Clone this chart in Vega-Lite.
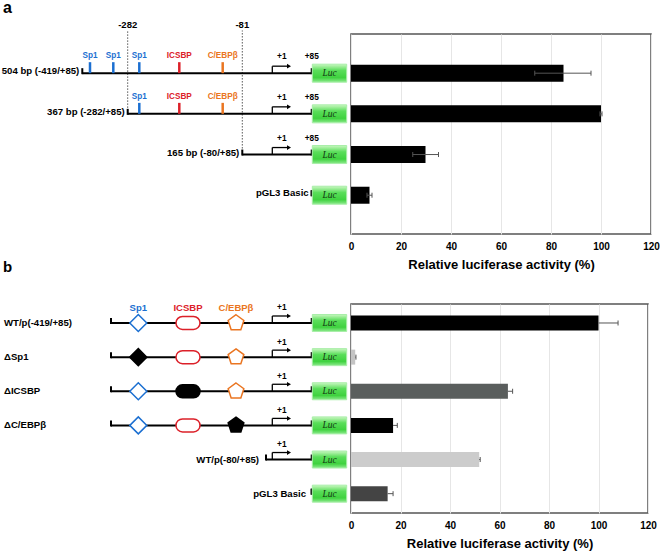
{
"$schema":"https://vega.github.io/schema/vega-lite/v6.json",
"padding":0,
"background":"white",
"config":{"font":"Liberation Sans","view":{"stroke":null},"text":{"font":"Liberation Sans"}},
"datasets":{
 "a_rows":[
  {"row":1,"name":"504 bp (-419/+85)","pos":82.3,"end":311.7},
  {"row":2,"name":"367 bp (-282/+85)","pos":127.7,"end":311.7},
  {"row":3,"name":"165 bp (-80/+85)","pos":242.3,"end":311.7},
  {"row":4,"name":"pGL3 Basic","pos":311.7,"end":311.7}
 ],
 "a_dash":[{"pos":127.7,"row":2,"top":-0.05,"label":"-282"},{"pos":242.3,"row":3,"top":-0.05,"label":"-81"}],
 "a_sites":[
  {"row":1,"site":"Sp1","pos":90},
  {"row":1,"site":"Sp1","pos":113.3},
  {"row":1,"site":"Sp1","pos":139.3},
  {"row":1,"site":"ICSBP","pos":179.3},
  {"row":1,"site":"C/EBPβ","pos":222.7},
  {"row":2,"site":"Sp1","pos":139.3},
  {"row":2,"site":"ICSBP","pos":179.3},
  {"row":2,"site":"C/EBPβ","pos":222.7}
 ],
 "a_tss":[
  {"row":1,"pos":272.3,"tip":289,"label":"+1"},
  {"row":2,"pos":272.3,"tip":289,"label":"+1"},
  {"row":3,"pos":272.3,"tip":289,"label":"+1"}
 ],
 "luc_a":[
  {"row":1,"pos":312.3,"lucEnd":346.7,"mid":329.5,"label":"Luc"},
  {"row":2,"pos":312.3,"lucEnd":346.7,"mid":329.5,"label":"Luc"},
  {"row":3,"pos":312.3,"lucEnd":346.7,"mid":329.5,"label":"Luc"},
  {"row":4,"pos":312.3,"lucEnd":346.7,"mid":329.5,"label":"Luc"}
 ],
 "a_letter":[{"pos":3,"row":-0.79,"label":"a"}],
 "bars_a":[
  {"row":1,"value":85,"lo":73.5,"hi":96},
  {"row":2,"value":100,"lo":99.6,"hi":100.4},
  {"row":3,"value":29.8,"lo":24.7,"hi":35},
  {"row":4,"value":7.4,"lo":6.4,"hi":8.4}
 ],
 "b_rows":[
  {"row":1,"name":"WT/p(-419/+85)","pos":111,"end":311.7,"lab":4},
  {"row":2,"name":"ΔSp1","pos":111,"end":311.7,"lab":4},
  {"row":3,"name":"ΔICSBP","pos":111,"end":311.7,"lab":4},
  {"row":4,"name":"ΔC/EBPβ","pos":111,"end":311.7,"lab":4},
  {"row":5,"name":"WT/p(-80/+85)","pos":266,"end":311.7,"lab":259},
  {"row":6,"name":"pGL3 Basic","pos":311.7,"end":311.7,"lab":306}
 ],
 "b_sites":[
  {"row":1,"site":"Sp1","pos":138.3,"from":138.3,"to":138.3,"deleted":false},
  {"row":1,"site":"ICSBP","pos":188,"from":176,"to":200,"deleted":false},
  {"row":1,"site":"C/EBPβ","pos":236,"from":236,"to":236,"deleted":false},
  {"row":2,"site":"Sp1","pos":138.3,"from":138.3,"to":138.3,"deleted":true},
  {"row":2,"site":"ICSBP","pos":188,"from":176,"to":200,"deleted":false},
  {"row":2,"site":"C/EBPβ","pos":236,"from":236,"to":236,"deleted":false},
  {"row":3,"site":"Sp1","pos":138.3,"from":138.3,"to":138.3,"deleted":false},
  {"row":3,"site":"ICSBP","pos":188,"from":176,"to":200,"deleted":true},
  {"row":3,"site":"C/EBPβ","pos":236,"from":236,"to":236,"deleted":false},
  {"row":4,"site":"Sp1","pos":138.3,"from":138.3,"to":138.3,"deleted":false},
  {"row":4,"site":"ICSBP","pos":188,"from":176,"to":200,"deleted":false},
  {"row":4,"site":"C/EBPβ","pos":236,"from":236,"to":236,"deleted":true}
 ],
 "b_tss":[
  {"row":1,"pos":272.3,"tip":289,"label":"+1"},
  {"row":2,"pos":272.3,"tip":289,"label":"+1"},
  {"row":3,"pos":272.3,"tip":289,"label":"+1"},
  {"row":4,"pos":272.3,"tip":289,"label":"+1"},
  {"row":5,"pos":272.3,"tip":289,"label":"+1"}
 ],
 "luc_b":[
  {"row":1,"pos":312.3,"lucEnd":346.7,"mid":329.5,"label":"Luc"},
  {"row":2,"pos":312.3,"lucEnd":346.7,"mid":329.5,"label":"Luc"},
  {"row":3,"pos":312.3,"lucEnd":346.7,"mid":329.5,"label":"Luc"},
  {"row":4,"pos":312.3,"lucEnd":346.7,"mid":329.5,"label":"Luc"},
  {"row":5,"pos":312.3,"lucEnd":346.7,"mid":329.5,"label":"Luc"},
  {"row":6,"pos":312.3,"lucEnd":346.7,"mid":329.5,"label":"Luc"}
 ],
 "b_letter":[{"pos":3,"row":-0.86,"label":"b"}],
 "bars_b":[
  {"row":1,"name":"WT/p(-419/+85)","value":100,"hi":107.9},
  {"row":2,"name":"ΔSp1","value":1.7,"hi":2.0},
  {"row":3,"name":"ΔICSBP","value":63.4,"hi":65.3},
  {"row":4,"name":"ΔC/EBPβ","value":17.0,"hi":18.7},
  {"row":5,"name":"WT/p(-80/+85)","value":51.8,"hi":52.2},
  {"row":6,"name":"pGL3 Basic","value":14.8,"hi":17.0}
 ]
},
"columns":2,
"align":"none",
"bounds":"flush",
"spacing":{"row":70,"column":0},
"resolve":{"scale":{"color":"independent","fill":"independent"}},
"concat":[
  {"width":348,"height":200,
   "encoding":{
    "x":{"field":"pos","type":"quantitative","scale":{"domain":[0,348],"nice":false,"zero":false},"axis":null},
    "y":{"field":"row","type":"quantitative","scale":{"domain":[0.16,4.83],"nice":false,"zero":false,"reverse":true},"axis":null}
   },
   "layer":[
    {"data":{"name":"a_dash"},"mark":{"type":"rule","strokeDash":[1.5,1.5],"color":"#444","strokeWidth":0.9},"encoding":{"y2":{"field":"top"}}},
    {"data":{"name":"a_dash"},"mark":{"type":"text","fontSize":9.5,"fontWeight":"bold","baseline":"alphabetic","dy":-2,"color":"#000"},
     "encoding":{"y":{"field":"top","type":"quantitative","scale":{"domain":[0.16,4.83],"nice":false,"zero":false,"reverse":true},"axis":null},"text":{"field":"label"}}},
    {"data":{"name":"a_rows"},"mark":{"type":"rule","strokeWidth":2,"color":"#000"},"encoding":{"x2":{"field":"end"}}},
    {"data":{"name":"a_rows"},"mark":{"type":"rule","strokeWidth":2,"color":"#000","yOffset":1,"y2Offset":-5},"encoding":{"y2":{"field":"row"}}},
    {"data":{"name":"a_rows"},"mark":{"type":"rule","strokeWidth":2,"color":"#000","yOffset":1,"y2Offset":-5},
     "encoding":{"x":{"field":"end","type":"quantitative","scale":{"domain":[0,348],"nice":false,"zero":false},"axis":null},"y2":{"field":"row"}}},
    {"data":{"name":"a_rows"},"mark":{"type":"text","align":"right","dx":-3,"dy":-2,"fontSize":9.6,"fontWeight":"bold","color":"#000"},"encoding":{"text":{"field":"name"}}},
    {"data":{"name":"a_sites"},"mark":{"type":"rule","strokeWidth":2.5,"y2Offset":-11},
     "encoding":{"y2":{"field":"row"},"color":{"field":"site","type":"nominal","scale":{"domain":["Sp1","ICSBP","C/EBPβ"],"range":["#1b6fd1","#dc2029","#ea7521"]},"legend":null}}},
    {"data":{"name":"a_sites"},"mark":{"type":"text","fontSize":8.2,"fontWeight":"bold","dy":-17},
     "encoding":{"text":{"field":"site"},"color":{"field":"site","type":"nominal","scale":{"domain":["Sp1","ICSBP","C/EBPβ"],"range":["#1b6fd1","#dc2029","#ea7521"]},"legend":null}}},
    {"data":{"name":"a_tss"},"mark":{"type":"rule","strokeWidth":1.3,"color":"#000","y2Offset":-7},"encoding":{"y2":{"field":"row"}}},
    {"data":{"name":"a_tss"},"mark":{"type":"rule","strokeWidth":1.3,"color":"#000","yOffset":-7},"encoding":{"x2":{"field":"tip"}}},
    {"data":{"name":"a_tss"},"mark":{"type":"point","shape":"triangle-right","size":22,"filled":true,"color":"#000","opacity":1,"yOffset":-7},
     "encoding":{"x":{"field":"tip","type":"quantitative","scale":{"domain":[0,348],"nice":false,"zero":false},"axis":null}}},
    {"data":{"name":"a_tss"},"mark":{"type":"text","fontSize":8.3,"fontWeight":"bold","dx":9.5,"dy":-16,"color":"#000"},"encoding":{"text":{"field":"label"}}},
    {"data":{"name":"a_rows"},"transform":[{"filter":"datum.row <= 3"}],"mark":{"type":"text","fontSize":8.3,"fontWeight":"bold","dy":-16,"color":"#000"},
     "encoding":{"x":{"field":"end","type":"quantitative","scale":{"domain":[0,348],"nice":false,"zero":false},"axis":null},"text":{"value":"+85"}}},
    {"data":{"name":"luc_a"},"mark":{"type":"bar","orient":"horizontal","size":18,"stroke":"#a8eea8","strokeWidth":1,
      "fill":{"gradient":"linear","x1":0,"y1":0,"x2":0,"y2":1,"stops":[{"offset":0,"color":"#c8f7c0"},{"offset":0.35,"color":"#5ade5a"},{"offset":0.75,"color":"#3fd23f"},{"offset":1,"color":"#8eea8e"}]}},
     "encoding":{"x2":{"field":"lucEnd"}}},
    {"data":{"name":"luc_a"},"mark":{"type":"text","font":"Liberation Serif","fontStyle":"italic","fontSize":9.5,"color":"#123812"},
     "encoding":{"x":{"field":"mid","type":"quantitative","scale":{"domain":[0,348],"nice":false,"zero":false},"axis":null},"text":{"field":"label"}}},
    {"data":{"name":"a_letter"},"mark":{"type":"text","align":"left","baseline":"top","fontSize":16,"fontWeight":"bold","color":"#000"},"encoding":{"text":{"field":"label"}}}
   ]
  },
  {"width":300,"height":200,"view":{"stroke":"#555","strokeWidth":1.5},
   "data":{"name":"bars_a"},
   "encoding":{"y":{"field":"row","type":"quantitative","scale":{"domain":[0.16,4.83],"nice":false,"zero":false,"reverse":true},"axis":null}},
   "layer":[
    {"mark":{"type":"bar","orient":"horizontal","size":17,"color":"#000"},
     "encoding":{"x":{"field":"value","type":"quantitative","scale":{"domain":[0,120],"nice":false},
      "axis":{"values":[0,20,40,60,80,100,120],"grid":true,"gridColor":"#e6e6e6","domain":false,"ticks":false,"labelFontSize":10,"labelFontWeight":"bold","labelColor":"#000","labelPadding":7,"labelFlush":false,"labelFont":"Liberation Sans","title":"Relative luciferase activity (%)","titleFontSize":13,"titleFontWeight":"bold","titleColor":"#000","titlePadding":7,"titleFont":"Liberation Sans"}}}},
    {"mark":{"type":"rule","color":"#555","strokeWidth":1},
     "encoding":{"x":{"field":"lo","type":"quantitative","scale":{"domain":[0,120],"nice":false}},"x2":{"field":"hi"}}},
    {"mark":{"type":"rule","color":"#555","strokeWidth":1,"yOffset":-2.5,"y2Offset":2.5},
     "encoding":{"x":{"field":"lo","type":"quantitative","scale":{"domain":[0,120],"nice":false}},"y2":{"field":"row"}}},
    {"mark":{"type":"rule","color":"#555","strokeWidth":1,"yOffset":-2.5,"y2Offset":2.5},
     "encoding":{"x":{"field":"hi","type":"quantitative","scale":{"domain":[0,120],"nice":false}},"y2":{"field":"row"}}}
   ]
  },
  {"width":351,"height":209,
   "encoding":{
    "x":{"field":"pos","type":"quantitative","scale":{"domain":[0,351],"nice":false,"zero":false},"axis":null},
    "y":{"field":"row","type":"quantitative","scale":{"domain":[0.59,6.42],"nice":false,"zero":false,"reverse":true},"axis":null}
   },
   "layer":[
    {"data":{"name":"b_rows"},"mark":{"type":"rule","strokeWidth":2,"color":"#000"},"encoding":{"x2":{"field":"end"}}},
    {"data":{"name":"b_rows"},"mark":{"type":"rule","strokeWidth":2,"color":"#000","yOffset":1,"y2Offset":-5},"encoding":{"y2":{"field":"row"}}},
    {"data":{"name":"b_rows"},"mark":{"type":"rule","strokeWidth":2,"color":"#000","yOffset":1,"y2Offset":-5},
     "encoding":{"x":{"field":"end","type":"quantitative","scale":{"domain":[0,351],"nice":false,"zero":false},"axis":null},"y2":{"field":"row"}}},
    {"data":{"name":"b_rows"},"transform":[{"filter":"datum.row <= 4"}],"mark":{"type":"text","align":"left","fontSize":9.6,"fontWeight":"bold","color":"#000"},
     "encoding":{"x":{"field":"lab","type":"quantitative","scale":{"domain":[0,351],"nice":false,"zero":false},"axis":null},"text":{"field":"name"}}},
    {"data":{"name":"b_rows"},"transform":[{"filter":"datum.row > 4"}],"mark":{"type":"text","align":"right","fontSize":9.6,"fontWeight":"bold","color":"#000"},
     "encoding":{"x":{"field":"lab","type":"quantitative","scale":{"domain":[0,351],"nice":false,"zero":false},"axis":null},"text":{"field":"name"}}},
    {"data":{"name":"b_sites"},"transform":[{"filter":"datum.site === 'ICSBP'"}],"mark":{"type":"bar","orient":"horizontal","size":13,"cornerRadius":6.5,"strokeWidth":1.5},
     "encoding":{"x":{"field":"from","type":"quantitative","scale":{"domain":[0,351],"nice":false,"zero":false},"axis":null},"x2":{"field":"to"},
      "fill":{"condition":{"test":"datum.deleted","value":"#000"},"value":"#fff"},
      "stroke":{"condition":{"test":"datum.deleted","value":"#000"},"value":"#dc2029"}}},
    {"data":{"name":"b_sites"},"transform":[{"filter":"datum.site === 'Sp1'"}],"mark":{"type":"point","shape":"diamond","size":289,"strokeWidth":1.5,"opacity":1},
     "encoding":{"fill":{"condition":{"test":"datum.deleted","value":"#000"},"value":"#fff"},
      "stroke":{"condition":{"test":"datum.deleted","value":"#000"},"value":"#1b6fd1"}}},
    {"data":{"name":"b_sites"},"transform":[{"filter":"datum.site === 'C/EBPβ'"}],"mark":{"type":"point","shape":"M0,-1L0.951,-0.309L0.588,0.809L-0.588,0.809L-0.951,-0.309Z","size":272,"strokeWidth":1.5,"opacity":1},
     "encoding":{"fill":{"condition":{"test":"datum.deleted","value":"#000"},"value":"#fff"},
      "stroke":{"condition":{"test":"datum.deleted","value":"#000"},"value":"#ea7521"}}},
    {"data":{"name":"b_sites"},"transform":[{"filter":"datum.row === 1"}],"mark":{"type":"text","fontSize":9.5,"fontWeight":"bold","dy":-14.5},
     "encoding":{"text":{"field":"site"},"color":{"field":"site","type":"nominal","scale":{"domain":["Sp1","ICSBP","C/EBPβ"],"range":["#1b6fd1","#dc2029","#ea7521"]},"legend":null}}},
    {"data":{"name":"b_tss"},"mark":{"type":"rule","strokeWidth":1.3,"color":"#000","y2Offset":-7},"encoding":{"y2":{"field":"row"}}},
    {"data":{"name":"b_tss"},"mark":{"type":"rule","strokeWidth":1.3,"color":"#000","yOffset":-7},"encoding":{"x2":{"field":"tip"}}},
    {"data":{"name":"b_tss"},"mark":{"type":"point","shape":"triangle-right","size":22,"filled":true,"color":"#000","opacity":1,"yOffset":-7},
     "encoding":{"x":{"field":"tip","type":"quantitative","scale":{"domain":[0,351],"nice":false,"zero":false},"axis":null}}},
    {"data":{"name":"b_tss"},"mark":{"type":"text","fontSize":8.3,"fontWeight":"bold","dx":9.5,"dy":-14.5,"color":"#000"},"encoding":{"text":{"field":"label"}}},
    {"data":{"name":"luc_b"},"mark":{"type":"bar","orient":"horizontal","size":17,"stroke":"#a8eea8","strokeWidth":1,
      "fill":{"gradient":"linear","x1":0,"y1":0,"x2":0,"y2":1,"stops":[{"offset":0,"color":"#c8f7c0"},{"offset":0.35,"color":"#5ade5a"},{"offset":0.75,"color":"#3fd23f"},{"offset":1,"color":"#8eea8e"}]}},
     "encoding":{"x2":{"field":"lucEnd"}}},
    {"data":{"name":"luc_b"},"mark":{"type":"text","font":"Liberation Serif","fontStyle":"italic","fontSize":9.5,"color":"#123812"},
     "encoding":{"x":{"field":"mid","type":"quantitative","scale":{"domain":[0,351],"nice":false,"zero":false},"axis":null},"text":{"field":"label"}}},
    {"data":{"name":"b_letter"},"mark":{"type":"text","align":"left","baseline":"top","fontSize":15,"fontWeight":"bold","color":"#000"},"encoding":{"text":{"field":"label"}}}
   ]
  },
  {"width":297,"height":209,"view":{"stroke":"#555","strokeWidth":1.5},
   "data":{"name":"bars_b"},
   "encoding":{"y":{"field":"row","type":"quantitative","scale":{"domain":[0.59,6.42],"nice":false,"zero":false,"reverse":true},"axis":null}},
   "layer":[
    {"mark":{"type":"bar","orient":"horizontal","size":15},
     "encoding":{"x":{"field":"value","type":"quantitative","scale":{"domain":[0,120],"nice":false},
      "axis":{"values":[0,20,40,60,80,100,120],"grid":true,"gridColor":"#e6e6e6","domain":false,"ticks":false,"labelFontSize":10,"labelFontWeight":"bold","labelColor":"#000","labelPadding":7,"labelFlush":false,"labelFont":"Liberation Sans","title":"Relative luciferase activity (%)","titleFontSize":13,"titleFontWeight":"bold","titleColor":"#000","titlePadding":7,"titleFont":"Liberation Sans"}},
      "fill":{"field":"name","type":"nominal","scale":{"domain":["WT/p(-419/+85)","ΔSp1","ΔICSBP","ΔC/EBPβ","WT/p(-80/+85)","pGL3 Basic"],"range":["#000000","#c4c4c4","#5a5e5d","#000000","#cccccc","#444444"]},"legend":null}}},
    {"mark":{"type":"rule","color":"#555","strokeWidth":1},
     "encoding":{"x":{"field":"value","type":"quantitative","scale":{"domain":[0,120],"nice":false}},"x2":{"field":"hi"}}},
    {"mark":{"type":"rule","color":"#555","strokeWidth":1,"yOffset":-2.5,"y2Offset":2.5},
     "encoding":{"x":{"field":"hi","type":"quantitative","scale":{"domain":[0,120],"nice":false}},"y2":{"field":"row"}}}
   ]
  }
]
}
